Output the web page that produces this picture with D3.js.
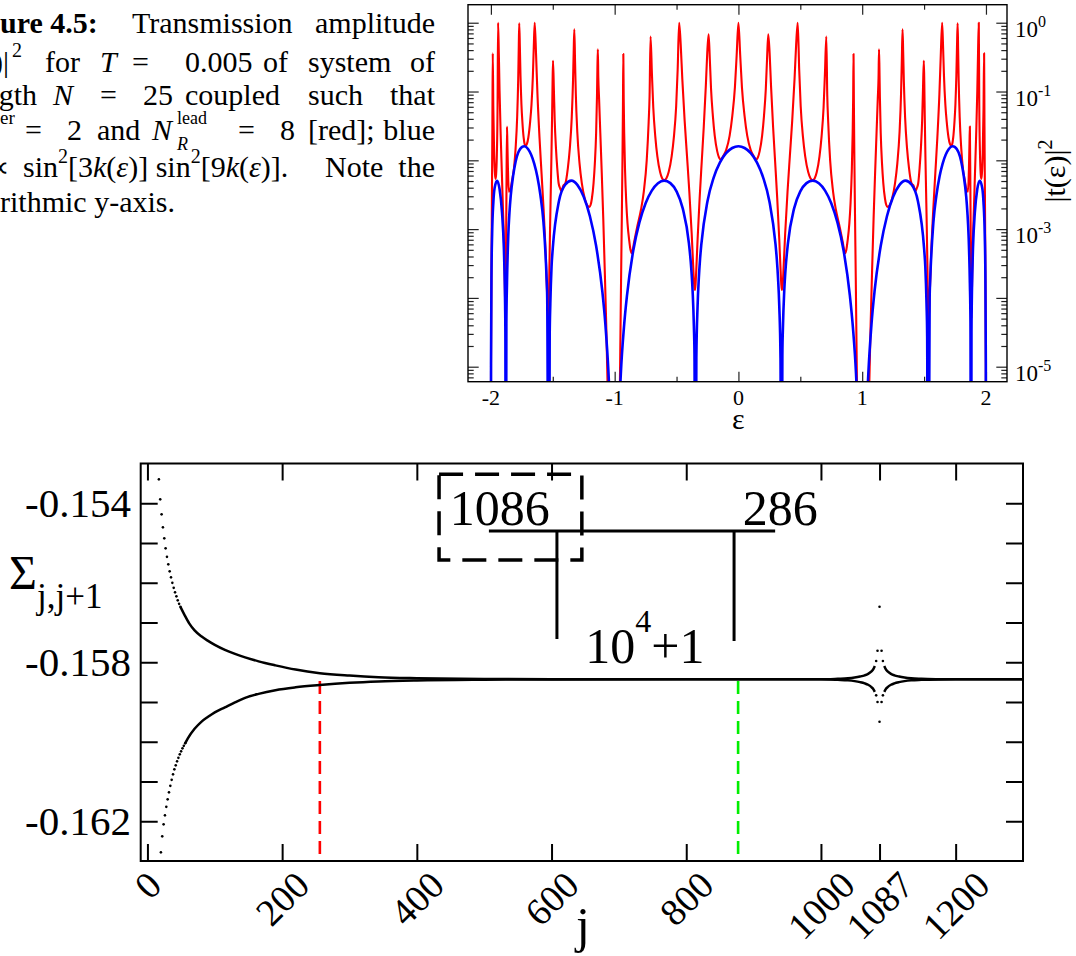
<!DOCTYPE html>
<html><head><meta charset="utf-8">
<script src="https://cdn.jsdelivr.net/npm/d3@7/dist/d3.min.js"></script>
<style>
html,body{margin:0;padding:0;background:#fff;}
svg{display:block;font-family:"Liberation Serif","Times New Roman",serif;}
</style></head><body>
<svg id="fig" width="1076" height="956" viewBox="0 0 1076 956"></svg>
<script>
// ================= DATA =================
// Top panel: blue curve [eps, |t|^2]
const blueCurve = [
[-2.0,1e-9],[-1.999,1.1e-5],[-1.995,0.00025],[-1.99,0.000857],[-1.98,0.00248],[-1.97,0.00395],[-1.95,0.00504],[-1.93,0.00382],[-1.91,0.00173],[-1.895,0.000519],[-1.89,0.000244],[-1.885,7.6e-5],[-1.883,3.2e-5],[-1.879,1e-9],[-1.875,4.2e-5],[-1.87,0.000164],[-1.86,0.000773],[-1.85,0.00175],[-1.84,0.00302],[-1.82,0.00603],[-1.8,0.00963],[-1.75,0.01553],[-1.73,0.016],[-1.7,0.01465],[-1.65,0.00898],[-1.625,0.00584],[-1.6,0.00313],[-1.575,0.00124],[-1.55,0.000191],[-1.545,0.000101],[-1.532,1e-9],[-1.525,2.8e-5],[-1.52,8e-5],[-1.51,0.000282],[-1.5,0.000527],[-1.45,0.00256],[-1.4,0.00442],[-1.35,0.00506],[-1.3,0.00436],[-1.25,0.00295],[-1.2,0.00154],[-1.15,0.000572],[-1.1,0.000126],[-1.075,4.13e-5],[-1.05,8.2e-6],[-1.03,1.1e-6],[-1.0,1e-9],[-0.97,1e-6],[-0.95,8e-6],[-0.925,3.74e-5],[-0.9,0.00011],[-0.85,0.000485],[-0.8,0.00125],[-0.75,0.00238],[-0.7,0.00363],[-0.65,0.00464],[-0.6,0.00507],[-0.55,0.00466],[-0.5,0.00353],[-0.45,0.002],[-0.4,0.000622],[-0.38,0.000252],[-0.37,0.000124],[-0.36,3.95e-5],[-0.355,1.47e-5],[-0.347,1e-9],[-0.34,1.33e-5],[-0.33,7.65e-5],[-0.32,0.000194],[-0.31,0.000368],[-0.3,0.000593],[-0.25,0.00255],[-0.2,0.00561],[-0.15,0.00925],[-0.1,0.0127],[-0.05,0.0151],
[0,0.016],
[0.05,0.0151],[0.1,0.0127],[0.15,0.00925],[0.2,0.00561],[0.25,0.00255],[0.3,0.000593],[0.31,0.000368],[0.32,0.000194],[0.33,7.65e-5],[0.34,1.33e-5],[0.347,1e-9],[0.355,1.47e-5],[0.36,3.95e-5],[0.37,0.000124],[0.38,0.000252],[0.4,0.000622],[0.45,0.002],[0.5,0.00353],[0.55,0.00466],[0.6,0.00507],[0.65,0.00464],[0.7,0.00363],[0.75,0.00238],[0.8,0.00125],[0.85,0.000485],[0.9,0.00011],[0.925,3.74e-5],[0.95,8e-6],[0.97,1e-6],[1.0,1e-9],[1.03,1.1e-6],[1.05,8.2e-6],[1.075,4.13e-5],[1.1,0.000126],[1.15,0.000572],[1.2,0.00154],[1.25,0.00295],[1.3,0.00436],[1.35,0.00506],[1.4,0.00442],[1.45,0.00256],[1.5,0.000527],[1.51,0.000282],[1.52,8e-5],[1.525,2.8e-5],[1.532,1e-9],[1.545,0.000101],[1.55,0.000191],[1.575,0.00124],[1.6,0.00313],[1.625,0.00584],[1.65,0.00898],[1.7,0.01465],[1.73,0.016],[1.75,0.01553],[1.8,0.00963],[1.82,0.00603],[1.84,0.00302],[1.85,0.00175],[1.86,0.000773],[1.87,0.000164],[1.875,4.2e-5],[1.879,1e-9],[1.883,3.2e-5],[1.885,7.6e-5],[1.89,0.000244],[1.895,0.000519],[1.91,0.00173],[1.93,0.00382],[1.95,0.00504],[1.97,0.00395],[1.98,0.00248],[1.99,0.000857],[1.995,0.00025],[1.999,1.1e-5],[2.0,1e-9]
];
// Top panel: red curve [eps, |t|^2]
const redCurve = [
[-2.0,1e-8],[-1.999,1e-5],[-1.996,0.000158],[-1.992,0.00251],[-1.988,0.0316],[-1.985,0.36],[-1.9804,0.0569],[-1.9735,0.0119],[-1.9666,0.00617],[-1.962,0.00537],[-1.958,0.00617],[-1.952,0.0119],[-1.946,0.0631],[-1.942,1.0],[-1.936,0.364],[-1.93,0.102],[-1.921,0.0239],[-1.912,0.00711],[-1.903,0.00207],[-1.894,0.000631],[-1.888,0.000178],[-1.882,5e-5],[-1.8778,0.00041],[-1.8742,0.00377],[-1.87,0.031],[-1.867,0.0182],[-1.8625,0.00778],[-1.855,0.0035],[-1.8424,0.00374],[-1.8298,0.00501],[-1.813,0.00778],[-1.8004,0.0149],[-1.7878,0.0422],[-1.7794,0.149],[-1.7752,0.407],[-1.771,0.98],[-1.7659,0.445],[-1.7608,0.169],[-1.7532,0.0647],[-1.7455,0.0361],[-1.7353,0.0213],[-1.7277,0.0173],[-1.72,0.0162],[-1.7089,0.0173],[-1.6978,0.0213],[-1.683,0.0361],[-1.6719,0.0647],[-1.6608,0.169],[-1.6534,0.449],[-1.646,1.0],[-1.6349,0.338],[-1.6238,0.0916],[-1.6072,0.0213],[-1.5905,0.00634],[-1.5739,0.00187],[-1.5572,0.000434],[-1.5461,0.000118],[-1.535,3.98e-5],[-1.5313,8.1e-5],[-1.5276,0.000249],[-1.522,0.00101],[-1.5165,0.00338],[-1.511,0.0111],[-1.5054,0.0449],[-1.5017,0.137],[-1.498,0.28],[-1.4912,0.108],[-1.4844,0.038],[-1.4742,0.0149],[-1.464,0.00778],[-1.4524,0.0046],[-1.4402,0.0039],[-1.43,0.0036],[-1.4144,0.0043],[-1.3988,0.0046],[-1.378,0.00778],[-1.3624,0.0149],[-1.3468,0.0418],[-1.3364,0.144],[-1.3312,0.373],[-1.326,0.8],[-1.32,0.275],[-1.3139,0.0929],[-1.3018,0.0256],[-1.2837,0.00895],[-1.2655,0.00467],[-1.2413,0.00276],[-1.2232,0.00224],[-1.205,0.0021],[-1.1947,0.00224],[-1.1843,0.00276],[-1.1705,0.00467],[-1.1602,0.00895],[-1.1498,0.0248],[-1.1429,0.0838],[-1.1395,0.207],[-1.136,0.41],[-1.132,0.158],[-1.126,0.0794],[-1.116,0.0251],[-1.104,0.00631],[-1.092,0.00141],[-1.08,0.000251],[-1.068,3.98e-5],[-1.058,6.3e-6],[-1.045,3.2e-7],[-1.02,1e-8],[-0.99,1e-8],[-0.965,3.2e-7],[-0.958,5e-6],[-0.953,3.16e-5],[-0.948,0.0002],[-0.942,0.00158],[-0.937,0.01],[-0.933,0.0631],[-0.93,0.35],[-0.927,0.0794],[-0.923,0.0251],[-0.916,0.00708],[-0.906,0.0024],[-0.896,0.0012],[-0.882,0.000676],[-0.872,0.000501],[-0.862,0.000447],[-0.8418,0.000661],[-0.8185,0.00107],[-0.7875,0.00191],[-0.7643,0.00355],[-0.741,0.01],[-0.7255,0.0355],[-0.7178,0.0871],[-0.71,0.63],[-0.699,0.183],[-0.688,0.0585],[-0.6715,0.0219],[-0.655,0.0114],[-0.633,0.00675],[-0.6165,0.00548],[-0.6,0.00513],[-0.5819,0.00548],[-0.5637,0.00675],[-0.5395,0.0114],[-0.5214,0.0219],[-0.5032,0.0607],[-0.4911,0.205],[-0.479,1.0],[-0.4663,0.48],[-0.4536,0.154],[-0.4346,0.0378],[-0.4155,0.0115],[-0.3965,0.00344],[-0.3774,0.000843],[-0.3647,0.000271],[-0.3584,0.000162],[-0.352,0.00013],[-0.3465,0.000156],[-0.3409,0.000247],[-0.3298,0.000719],[-0.3132,0.00286],[-0.2965,0.00955],[-0.2799,0.031],[-0.2632,0.123],[-0.2521,0.36],[-0.241,0.68],[-0.2311,0.294],[-0.2212,0.109],[-0.2064,0.044],[-0.1915,0.0229],[-0.1717,0.0136],[-0.1568,0.011],[-0.142,0.0103],[-0.1207,0.0117],[-0.0994,0.0141],[-0.071,0.0229],[-0.0497,0.044],[-0.0284,0.115],[-0.0142,0.34],
[0,1.0],
[0.0142,0.34],[0.0284,0.115],[0.0497,0.044],[0.071,0.0229],[0.0994,0.0141],[0.1207,0.0117],[0.142,0.0103],[0.1568,0.011],[0.1717,0.0136],[0.1915,0.0229],[0.2064,0.044],[0.2212,0.109],[0.2311,0.294],[0.241,0.68],[0.2521,0.36],[0.2632,0.123],[0.2799,0.031],[0.2965,0.00955],[0.3132,0.00286],[0.3298,0.000719],[0.3409,0.000247],[0.3465,0.000156],[0.352,0.00013],[0.3584,0.000162],[0.3647,0.000271],[0.3774,0.000843],[0.3965,0.00344],[0.4155,0.0115],[0.4346,0.0378],[0.4536,0.154],[0.4663,0.48],[0.479,1.0],[0.4911,0.205],[0.5032,0.0607],[0.5214,0.0219],[0.5395,0.0114],[0.5637,0.00675],[0.5819,0.00548],[0.6,0.00513],[0.6165,0.00548],[0.633,0.00675],[0.655,0.0114],[0.6715,0.0219],[0.688,0.0585],[0.699,0.183],[0.71,0.63],[0.7178,0.0871],[0.7255,0.0355],[0.741,0.01],[0.7643,0.00355],[0.7875,0.00191],[0.8185,0.00107],[0.8418,0.000661],[0.862,0.000447],[0.872,0.000501],[0.882,0.000676],[0.896,0.0012],[0.906,0.0024],[0.916,0.00708],[0.923,0.0251],[0.927,0.0794],[0.93,0.35],[0.933,0.0631],[0.937,0.01],[0.942,0.00158],[0.948,0.0002],[0.953,3.16e-5],[0.958,5e-6],[0.965,3.2e-7],[0.99,1e-8],[1.02,1e-8],[1.045,3.2e-7],[1.058,6.3e-6],[1.068,3.98e-5],[1.08,0.000251],[1.092,0.00141],[1.104,0.00631],[1.116,0.0251],[1.126,0.0794],[1.132,0.158],[1.136,0.41],[1.1395,0.207],[1.1429,0.0838],[1.1498,0.0248],[1.1602,0.00895],[1.1705,0.00467],[1.1843,0.00276],[1.1947,0.00224],[1.205,0.0021],[1.2232,0.00224],[1.2413,0.00276],[1.2655,0.00467],[1.2837,0.00895],[1.3018,0.0256],[1.3139,0.0929],[1.32,0.275],[1.326,0.8],[1.3312,0.373],[1.3364,0.144],[1.3468,0.0418],[1.3624,0.0149],[1.378,0.00778],[1.3988,0.0046],[1.4144,0.0043],[1.43,0.0036],[1.4402,0.0039],[1.4524,0.0046],[1.464,0.00778],[1.4742,0.0149],[1.4844,0.038],[1.4912,0.108],[1.498,0.28],[1.5017,0.137],[1.5054,0.0449],[1.511,0.0111],[1.5165,0.00338],[1.522,0.00101],[1.5276,0.000249],[1.5313,8.1e-5],[1.535,3.98e-5],[1.5461,0.000118],[1.5572,0.000434],[1.5739,0.00187],[1.5905,0.00634],[1.6072,0.0213],[1.6238,0.0916],[1.6349,0.338],[1.646,1.0],[1.6534,0.449],[1.6608,0.169],[1.6719,0.0647],[1.683,0.0361],[1.6978,0.0213],[1.7089,0.0173],[1.72,0.0162],[1.7277,0.0173],[1.7353,0.0213],[1.7455,0.0361],[1.7532,0.0647],[1.7608,0.169],[1.7659,0.445],[1.771,0.98],[1.7752,0.407],[1.7794,0.149],[1.7878,0.0422],[1.8004,0.0149],[1.813,0.00778],[1.8298,0.00501],[1.8424,0.00374],[1.855,0.0035],[1.8625,0.00778],[1.867,0.0182],[1.87,0.031],[1.8742,0.00377],[1.8778,0.00041],[1.882,5e-5],[1.888,0.000178],[1.894,0.000631],[1.903,0.00207],[1.912,0.00711],[1.921,0.0239],[1.93,0.102],[1.936,0.364],[1.942,1.0],[1.946,0.0631],[1.952,0.0119],[1.958,0.00617],[1.962,0.00537],[1.9666,0.00617],[1.9735,0.0119],[1.9804,0.0569],[1.985,0.36],[1.988,0.0316],[1.992,0.00251],[1.996,0.000158],[1.999,1e-5],[2.0,1e-8]
];
const epsMajorTicks = [-2,-1,0,1,2];
const epsMinorTicks = [-1.5,-0.5,0.5,1.5];
const tDecades = [1e-5,1e-4,1e-3,1e-2,1e-1,1];
const tLabels = [[1,"0"],[1e-1,"-1"],[1e-3,"-3"],[1e-5,"-5"]];

// Bottom panel: Sigma_{j,j+1} vs j
const upperDotsJ = [17,19,21,23,25,27,29,31,33,35,37,39,41,43,45,47,49];
const upperDotsS = [-0.153399,-0.153902,-0.154279,-0.154606,-0.154883,-0.155134,-0.155348,-0.155537,-0.155713,-0.155864,-0.156002,-0.156128,-0.156241,-0.156342,-0.156443,-0.156531,-0.156606];
const upperLineJ = [49,55,62,70,80,90,100,115,130,145,165,190,220,256,300,343,400,500,600,800,1000,1025,1040,1050,1058,1065,1070,1075,1078,1080,1087,1094,1096,1099,1104,1109,1116,1124,1134,1149,1174,1200,1300];
const upperLineS = [-0.156606,-0.156807,-0.157021,-0.157197,-0.157348,-0.157462,-0.157562,-0.157688,-0.157789,-0.157877,-0.157977,-0.158078,-0.158184,-0.158274,-0.158334,-0.158375,-0.1584,-0.158419,-0.158426,-0.15843,-0.15843,-0.158417,-0.158405,-0.158385,-0.15836,-0.158329,-0.158292,-0.158229,-0.158166,-0.158095,null,-0.158095,-0.158166,-0.158229,-0.158292,-0.158329,-0.15836,-0.158385,-0.158405,-0.158417,-0.158426,-0.15843,-0.15843];
const upperPeakJ = [1082,1084,1087,1090,1092];
const upperPeakS = [-0.15797,-0.157711,-0.156604,-0.157711,-0.15797];
const lowerDotsJ = [20,22,24,26,28,30,32,34,36,38,40,42,44,46,48,50,52,54,56];
const lowerDotsS = [-0.162782,-0.16238,-0.162078,-0.161851,-0.161638,-0.161449,-0.161273,-0.161109,-0.160958,-0.16082,-0.160694,-0.160594,-0.160493,-0.160405,-0.160317,-0.160241,-0.160166,-0.160103,-0.16004];
const lowerLineJ = [56,60,70,80,90,100,115,130,145,165,190,220,256,300,343,400,500,600,800,1000,1025,1040,1050,1058,1065,1070,1075,1078,1080,1087,1094,1096,1099,1104,1109,1116,1124,1134,1149,1174,1200,1300];
const lowerLineS = [-0.16004,-0.159914,-0.159675,-0.159499,-0.159373,-0.15926,-0.159134,-0.159009,-0.158895,-0.158795,-0.158702,-0.158631,-0.158573,-0.158518,-0.158483,-0.158458,-0.15844,-0.158433,-0.15843,-0.15843,-0.158443,-0.158455,-0.158475,-0.1585,-0.158531,-0.158566,-0.158626,-0.158682,-0.158745,null,-0.158745,-0.158682,-0.158626,-0.158566,-0.158531,-0.1585,-0.158475,-0.158455,-0.158443,-0.158433,-0.15843,-0.15843];
const lowerPeakJ = [1082,1084,1087,1090,1092];
const lowerPeakS = [-0.158833,-0.159001,-0.159497,-0.159001,-0.158833];
const jTicks = [0,200,400,600,800,1000,1087,1200];
const sigmaTicks = [-0.162,-0.161,-0.160,-0.159,-0.158,-0.157,-0.156,-0.155,-0.154];
const sigmaLabels = [-0.154,-0.158,-0.162];
const markerJ = [256, 877];
const markerColor = ["#ff0000", "#00ee00"];
const markerTopS = -0.15847;
// diagram annotation (data units)
const boxJ = [433, 645], boxS = [-0.153272, -0.155428];
const barJ = [507, 932], barS = -0.154698;
const stemJ = [608, 871], stemBottomS = [-0.157415, -0.157465];
const labelLeft = {j: 449, s: -0.154547, text: "1086"};
const labelRight = {j: 884, s: -0.154547, text: "286"};
const labelBottom = {j: 650, s: -0.158019};

// ================= DRAW =================
(function(){
const svg = d3.select('#fig');
svg.append('rect').attr('width',1076).attr('height',956).attr('fill','#fff');
const defs = svg.append('defs');

// ---------- caption (cropped page text) ----------
const cap = svg.append('g').attr('font-size',30).attr('fill','#000');
function ct(x,y,s,o={}){const t=cap.append('text').attr('x',x).attr('y',y).text(s);
  if(o.anchor)t.attr('text-anchor',o.anchor); if(o.it)t.attr('font-style','italic');
  if(o.b)t.attr('font-weight','bold'); if(o.fs)t.attr('font-size',o.fs); return t;}
ct(0,33,'ure 4.5:',{b:1}); ct(132,33,'Transmission'); ct(435,33,'amplitude',{anchor:'end'});
ct(9,72,')|',{anchor:'end'}); ct(12,57,'2',{fs:20}); ct(45,72,'for'); ct(100,72,'T',{it:1}); ct(132,72,'=');
ct(185,72,'0.005'); ct(263,72,'of'); ct(308,72,'system'); ct(435,72,'of',{anchor:'end'});
ct(37,105,'gth',{anchor:'end'}); ct(53,105,'N',{it:1}); ct(100,105,'='); ct(143,105,'25'); ct(185,105,'coupled');
ct(308,105,'such'); ct(435,105,'that',{anchor:'end'});
ct(0,124,'er',{fs:19}); ct(25,140,'='); ct(67,140,'2'); ct(97,140,'and'); ct(152,140,'N',{it:1});
ct(177,124,'lead',{fs:18}); ct(177,150,'R',{fs:18,it:1}); ct(238,140,'='); ct(280,140,'8'); ct(308,140,'[red];');
ct(435,140,'blue',{anchor:'end'});
ct(9,177,'∝',{anchor:'end'});
(function(){const t=ct(23,177,'sin');
  const sup=(s)=>{t.append('tspan').attr('font-size',20).attr('dy',-14).text(s);};
  const it=(s)=>{t.append('tspan').attr('font-style','italic').text(s);};
  const rm=(s,dy)=>{const q=t.append('tspan').text(s); if(dy)q.attr('dy',dy);};
  sup('2'); rm('[3',14); it('k'); rm('('); it('ε'); rm(')] sin'); sup('2'); rm('[9',14); it('k'); rm('('); it('ε'); rm(')].');})();
ct(325,177,'Note'); ct(435,177,'the',{anchor:'end'});
ct(0,212,'rithmic y-axis.');

// ---------- top panel ----------
const tx = d3.scaleLinear().domain([-2.185, 2.17]).range([468, 1007]);
const ty = d3.scaleLog().domain([Math.pow(10,-5.218), Math.pow(10,0.262)]).range([381.7, 4.7]);
const topG = svg.append('g');
defs.append('clipPath').attr('id','clipTop').append('rect')
  .attr('x',468).attr('y',4.7).attr('width',539).attr('height',377);
const tMinor=[]; for(let n=-6;n<=0;n++){for(let k=2;k<=9;k++){const v=k*Math.pow(10,n); if(v>ty.domain()[0]&&v<ty.domain()[1]) tMinor.push(v);}}
function axisStyle(g){g.select('.domain').remove(); g.selectAll('line').attr('stroke','#222').attr('stroke-width',1.2);}
topG.append('g').attr('transform','translate(0,381.7)').call(d3.axisBottom(tx).tickValues(epsMajorTicks).tickSize(-10).tickFormat('')).call(axisStyle);
topG.append('g').attr('transform','translate(0,381.7)').call(d3.axisBottom(tx).tickValues(epsMinorTicks).tickSize(-5).tickFormat('')).call(axisStyle);
topG.append('g').attr('transform','translate(0,4.7)').call(d3.axisTop(tx).tickValues(epsMajorTicks).tickSize(-10).tickFormat('')).call(axisStyle);
topG.append('g').attr('transform','translate(0,4.7)').call(d3.axisTop(tx).tickValues(epsMinorTicks).tickSize(-5).tickFormat('')).call(axisStyle);
topG.append('g').attr('transform','translate(468,0)').call(d3.axisLeft(ty).tickValues(tDecades).tickSize(-10.7).tickFormat('')).call(axisStyle);
topG.append('g').attr('transform','translate(468,0)').call(d3.axisLeft(ty).tickValues(tMinor).tickSize(-5.7).tickFormat('')).call(axisStyle);
topG.append('g').attr('transform','translate(1007,0)').call(d3.axisRight(ty).tickValues(tDecades).tickSize(-10.7).tickFormat('')).call(axisStyle);
topG.append('g').attr('transform','translate(1007,0)').call(d3.axisRight(ty).tickValues(tMinor).tickSize(-5.7).tickFormat('')).call(axisStyle);

const tline = d3.line().x(d=>tx(d[0])).y(d=>ty(d[1])).curve(d3.curveMonotoneX);
const plotTop = topG.append('g').attr('clip-path','url(#clipTop)');
plotTop.append('path').datum(redCurve).attr('d',tline).attr('fill','none').attr('stroke','#ff0000').attr('stroke-width',2.1).attr('stroke-linejoin','round');
plotTop.append('path').datum(blueCurve).attr('d',tline).attr('fill','none').attr('stroke','#0000ff').attr('stroke-width',2.6).attr('stroke-linejoin','round');
topG.append('rect').attr('x',468).attr('y',4.7).attr('width',539).attr('height',377).attr('fill','none').attr('stroke','#000').attr('stroke-width',1.4);

epsMajorTicks.forEach(v=>topG.append('text').attr('x',tx(v)).attr('y',405).attr('text-anchor','middle').attr('font-size',22).text(v<0?'-'+Math.abs(v):String(v)));
topG.append('text').attr('x',tx(0)).attr('y',429).attr('text-anchor','middle').attr('font-size',30).text('ε');
tLabels.forEach(([v,e])=>{const t=topG.append('text').attr('x',1015).attr('y',ty(v)+14).attr('font-size',23);
  t.append('tspan').text('10'); t.append('tspan').attr('font-size',16).attr('dy',-10).text(e);});
(function(){const t=topG.append('text').attr('transform','translate(1065,171) rotate(-90)').attr('text-anchor','middle').attr('font-size',30);
  t.append('tspan').text('|t(ε)|'); t.append('tspan').attr('font-size',20).attr('dy',-13).text('2');})();

// ---------- bottom panel ----------
const bx = d3.scaleLinear().domain([-10,1300]).range([140.7,1023]);
const by = d3.scaleLinear().domain([-0.163,-0.153]).range([861,463.5]);
const botG = svg.append('g');
defs.append('clipPath').attr('id','clipBot').append('rect')
  .attr('x',140.7).attr('y',463.5).attr('width',882.3).attr('height',397.5);
function axB(g){g.select('.domain').remove(); g.selectAll('line').attr('stroke','#000').attr('stroke-width',2);}
botG.append('g').attr('transform','translate(0,861)').call(d3.axisBottom(bx).tickValues(jTicks).tickSize(-17).tickFormat('')).call(axB);
botG.append('g').attr('transform','translate(0,463.5)').call(d3.axisTop(bx).tickValues(jTicks).tickSize(-17).tickFormat('')).call(axB);
botG.append('g').attr('transform','translate(140.7,0)').call(d3.axisLeft(by).tickValues(sigmaTicks).tickSize(-17).tickFormat('')).call(axB);
botG.append('g').attr('transform','translate(1023,0)').call(d3.axisRight(by).tickValues(sigmaTicks).tickSize(-17).tickFormat('')).call(axB);

// annotation diagram
botG.append('rect').attr('x',bx(boxJ[0])).attr('y',by(boxS[0])).attr('width',bx(boxJ[1])-bx(boxJ[0])).attr('height',by(boxS[1])-by(boxS[0]))
  .attr('fill','none').attr('stroke','#000').attr('stroke-width',3.5).attr('stroke-dasharray','24 12');
botG.append('line').attr('x1',bx(barJ[0])).attr('x2',bx(barJ[1])).attr('y1',by(barS)).attr('y2',by(barS)).attr('stroke','#000').attr('stroke-width',3);
stemJ.forEach((j,i)=>botG.append('line').attr('x1',bx(j)).attr('x2',bx(j)).attr('y1',by(barS)).attr('y2',by(stemBottomS[i])).attr('stroke','#000').attr('stroke-width',3));
botG.append('text').attr('x',bx(labelLeft.j)).attr('y',by(labelLeft.s)).attr('font-size',50).text(labelLeft.text);
botG.append('text').attr('x',bx(labelRight.j)).attr('y',by(labelRight.s)).attr('font-size',50).text(labelRight.text);
(function(){const t=botG.append('text').attr('x',bx(labelBottom.j)).attr('y',by(labelBottom.s)).attr('font-size',50);
  t.append('tspan').text('10'); t.append('tspan').attr('font-size',32).attr('dy',-31).text('4'); t.append('tspan').attr('dy',31).text('+1');})();

// marker dashed lines
markerJ.forEach((j,i)=>botG.append('line').attr('x1',bx(j)).attr('x2',bx(j)).attr('y1',by(markerTopS)).attr('y2',861)
  .attr('stroke',markerColor[i]).attr('stroke-width',2.6).attr('stroke-dasharray','13 7'));

// data
const plotBot = botG.append('g').attr('clip-path','url(#clipBot)');
const bline = d3.line().defined(d=>d[1]!==null).x(d=>bx(d[0])).y(d=>by(d[1])).curve(d3.curveMonotoneX);
const zip=(a,b)=>a.map((v,i)=>[v,b[i]]);
[[upperLineJ,upperLineS],[lowerLineJ,lowerLineS]].forEach(([J,S])=>
  plotBot.append('path').datum(zip(J,S)).attr('d',bline).attr('fill','none').attr('stroke','#000').attr('stroke-width',2.5));
[[upperDotsJ,upperDotsS],[lowerDotsJ,lowerDotsS],[upperPeakJ,upperPeakS],[lowerPeakJ,lowerPeakS]].forEach(([J,S])=>
  plotBot.selectAll(null).data(zip(J,S)).enter().append('circle').attr('cx',d=>bx(d[0])).attr('cy',d=>by(d[1])).attr('r',1.3).attr('fill','#000'));

botG.append('rect').attr('x',140.7).attr('y',463.5).attr('width',882.3).attr('height',397.5).attr('fill','none').attr('stroke','#000').attr('stroke-width',2);

// tick labels
sigmaLabels.forEach(v=>botG.append('text').attr('x',131).attr('y',by(v)+14).attr('text-anchor','end').attr('font-size',41).text(v.toFixed(3)));
jTicks.forEach(v=>{const t=botG.append('text').attr('font-size',38).attr('text-anchor','middle').attr('dy','0.35em').text(v);
  const w=t.node().getComputedTextLength(); const cy=869+0.354*(w+26);
  t.attr('transform',`translate(${bx(v)},${cy}) rotate(-45)`);});
botG.append('text').attr('x',583).attr('y',942).attr('text-anchor','middle').attr('font-size',50).text('j');
botG.append('text').attr('x',9).attr('y',589).attr('font-size',48).text('Σ');
botG.append('text').attr('x',37).attr('y',608).attr('font-size',35).text('j,j+1');
})();
</script>
</body></html>
